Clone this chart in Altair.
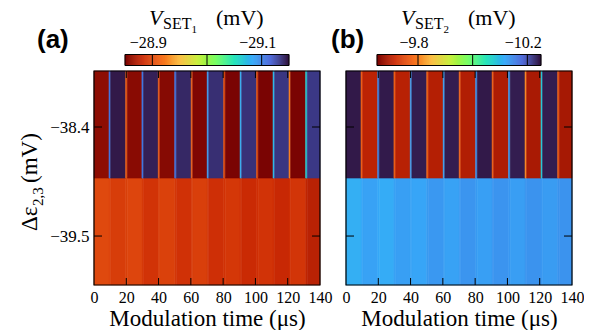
import altair as alt
import pandas as pd
import numpy as np

# ---- data ----
# segment edges along modulation time (us): blocks and ~1 us transitions
t_edges = [0, 9.3, 10.3, 19.6, 20.6, 29.7, 30.7, 39.8, 40.8, 50.0, 51.0, 60.2, 61.2,
           70.1, 71.1, 80.3, 81.3, 90.5, 91.5, 100.7, 101.7, 110.9, 111.9, 120.8,
           121.8, 131.1, 132.1, 140]
# detuning row edges (mV)
y_edges = [-39.994, -38.915, -37.835]

# V_SET1 (mV), panel (a)
a_top = [-28.858, -29.108, -29.147, -28.910, -28.856, -29.107, -29.144, -28.907,
         -28.855, -29.108, -29.141, -28.910, -28.852, -29.090, -29.138, -28.904,
         -28.850, -29.081, -29.137, -28.904, -28.848, -29.075, -29.135, -28.925,
         -28.849, -29.063, -29.134]
a_bottom = [-28.899, -28.897, -28.893, -28.895, -28.897, -28.892, -28.888, -28.892,
            -28.895, -28.891, -28.887, -28.891, -28.894, -28.889, -28.886, -28.888,
            -28.890, -28.886, -28.883, -28.886, -28.888, -28.885, -28.882, -28.885,
            -28.889, -28.880, -28.876]
# V_SET2 (mV), panel (b)
b_top = [-10.244, -9.770, -9.704, -10.148, -10.243, -9.770, -9.701, -10.130,
         -10.241, -9.776, -9.698, -10.124, -10.241, -9.776, -9.695, -10.136,
         -10.244, -9.770, -9.692, -10.130, -10.241, -9.806, -9.689, -10.082,
         -10.241, -9.770, -9.686]
b_bottom = [-10.111, -10.118, -10.124, -10.118, -10.114, -10.124, -10.127, -10.124,
            -10.121, -10.130, -10.133, -10.130, -10.124, -10.133, -10.136, -10.131,
            -10.127, -10.135, -10.137, -10.133, -10.128, -10.136, -10.138, -10.133,
            -10.130, -10.136, -10.138]

x_ticks = [0, 20, 40, 60, 80, 100, 120, 140]
y_ticks = [-38.4, -39.5]

a_cb_domain = [-28.85, -29.15]
a_cb_ticks = [-28.9, -29.0, -29.1]
a_cb_label_vals = [-28.9, -29.1]
a_cb_labels = ["\u221228.9", "\u221229.1"]

b_cb_domain = [-9.65, -10.25]
b_cb_ticks = [-9.8, -10.0, -10.2]
b_cb_label_vals = [-9.8, -10.2]
b_cb_labels = ["\u22129.8", "\u221210.2"]

turbo10 = ["#30123b", "#4662d7", "#36aaf9", "#1ae4b6", "#72fe5e",
           "#c7ef34", "#faba39", "#f66b19", "#cb2a04", "#7a0403"]

W, H = 226, 214
SERIF = "Liberation Serif"
ONE = pd.DataFrame({"a": [0]})


def cells(top, bottom):
    rows = []
    for r, vals in enumerate([bottom, top]):
        for i, v in enumerate(vals):
            rows.append(dict(t0=t_edges[i], t1=t_edges[i + 1],
                             y0=y_edges[r], y1=y_edges[r + 1], v=v))
    return pd.DataFrame(rows)


def txt(s, x, y, size, style="normal", angle=0, font=SERIF, weight="normal"):
    return alt.Chart(ONE).mark_text(
        text=s, font=font, fontSize=size, fontStyle=style, fontWeight=weight,
        align="left", baseline="alphabetic", angle=angle, color="black"
    ).encode(x=alt.value(x), y=alt.value(y))


def panel(top, bottom, cb_domain, cb_ticks, cb_label_vals, cb_labels,
          sub, letter, letter_x, show_y):
    lo, hi = min(cb_domain), max(cb_domain)
    cdom = [float(v) for v in np.linspace(lo, hi, len(turbo10))]
    cscale = alt.Scale(domain=cdom, range=turbo10, clamp=True, interpolate="rgb")
    xs = alt.Scale(domain=[0, 140], nice=False, zero=False)
    ys = alt.Scale(domain=[y_edges[0], y_edges[-1]], nice=False, zero=False)

    xaxis = alt.Axis(values=x_ticks, ticks=False, domain=False, grid=False,
                     labelFont=SERIF, labelFontSize=16, labelPadding=4,
                     labelFlush=False, labelOverlap=False, labelColor="black",
                     title="Modulation time (\u03bcs)", titleFont=SERIF,
                     titleFontSize=23, titleFontWeight="normal",
                     titleColor="black", titlePadding=2)
    if show_y:
        yenc = lambda f: alt.Y(f, scale=ys, axis=alt.Axis(
            values=y_ticks, ticks=False, domain=False, grid=False, format=".1f",
            labelFont=SERIF, labelFontSize=17, labelPadding=5,
            labelColor="black", title=None))
    else:
        yenc = lambda f: alt.Y(f, scale=ys, axis=None)

    heat = alt.Chart(cells(top, bottom)).mark_rect(strokeWidth=0.6).encode(
        x=alt.X("t0:Q", scale=xs, axis=xaxis), x2="t1:Q",
        y=yenc("y0:Q"), y2="y1:Q",
        color=alt.Color("v:Q", scale=cscale, legend=None),
        stroke=alt.Stroke("v:Q", scale=cscale, legend=None),
    )

    xt = pd.DataFrame({"t": x_ticks[1:-1]})
    yt = pd.DataFrame({"y": y_ticks})
    rule = dict(color="black", strokeWidth=1)
    bt = alt.Chart(xt).mark_rule(**rule).encode(
        x=alt.X("t:Q", scale=xs, axis=None), y=alt.value(H - 7), y2=alt.value(H))
    tt = alt.Chart(xt).mark_rule(**rule).encode(
        x=alt.X("t:Q", scale=xs, axis=None), y=alt.value(0), y2=alt.value(7))
    lt = alt.Chart(yt).mark_rule(**rule).encode(
        y=yenc("y:Q"), x=alt.value(0), x2=alt.value(8))
    rt = alt.Chart(yt).mark_rule(**rule).encode(
        y=yenc("y:Q"), x=alt.value(W - 8), x2=alt.value(W))
    frame = alt.Chart(ONE).mark_rect(fillOpacity=0, stroke="black", strokeWidth=1.2).encode(
        x=alt.value(0), x2=alt.value(W), y=alt.value(0), y2=alt.value(H))

    # colorbar
    cbx = alt.Scale(domain=cb_domain, range=[31, 195], nice=False, zero=False)
    g = np.linspace(hi, lo, 161)
    cb_df = pd.DataFrame({"c0": g[:-1], "c1": g[1:], "v": (g[:-1] + g[1:]) / 2})
    cb = alt.Chart(cb_df).mark_rect(strokeWidth=0.5).encode(
        x=alt.X("c0:Q", scale=cbx, axis=None), x2="c1:Q",
        y=alt.value(-16.5), y2=alt.value(-5.5),
        color=alt.Color("v:Q", scale=cscale, legend=None),
        stroke=alt.Stroke("v:Q", scale=cscale, legend=None))
    cbt = alt.Chart(pd.DataFrame({"c": cb_ticks})).mark_rule(**rule).encode(
        x=alt.X("c:Q", scale=cbx, axis=None), y=alt.value(-16.5), y2=alt.value(-5.5))
    cbb = alt.Chart(pd.DataFrame({"c0": [cb_domain[0]], "c1": [cb_domain[1]]})).mark_rect(
        fillOpacity=0, stroke="black", strokeWidth=1).encode(
        x=alt.X("c0:Q", scale=cbx, axis=None), x2="c1:Q",
        y=alt.value(-16.5), y2=alt.value(-5.5))
    cbl = alt.Chart(pd.DataFrame({"c": cb_label_vals, "lab": cb_labels})).mark_text(
        font=SERIF, fontSize=16, baseline="alphabetic", align="center", dx=-4,
        color="black").encode(
        x=alt.X("c:Q", scale=cbx, axis=None), y=alt.value(-22.7), text="lab:N")

    texts = [
        txt("V", 55, -46, 22, style="italic"),
        txt("SET", 69, -42.5, 16),
        txt(sub, 97.5, -38.5, 11),
        txt("(mV)", 122, -46, 22),
        txt(letter, letter_x, -23, 26, font="Liberation Sans", weight="bold"),
    ]
    layers = [heat, bt, tt, lt, rt, frame, cb, cbt, cbb, cbl] + texts
    if show_y:
        texts_y = [
            txt("\u0394\u03b5", -57, 160, 23, angle=270),
            txt("2,3", -51.5, 135, 15, angle=270),
            txt("(mV)", -57, 112, 23, angle=270),
            alt.Chart(ONE).mark_rect(opacity=0).encode(
                x=alt.value(-94), x2=alt.value(-93), y=alt.value(-71), y2=alt.value(-70)),
        ]
        layers += texts_y
    return alt.layer(*layers).resolve_scale(x="independent").properties(width=W, height=H)


pa = panel(a_top, a_bottom, a_cb_domain, a_cb_ticks, a_cb_label_vals, a_cb_labels,
           "1", "(a)", -57, True)
pb = panel(b_top, b_bottom, b_cb_domain, b_cb_ticks, b_cb_label_vals, b_cb_labels,
           "2", "(b)", -15, False)

chart = alt.hconcat(pa, pb, spacing=26, bounds="flush").resolve_scale(
    x="independent", y="independent", color="independent", stroke="independent"
).properties(padding={"left": 0, "top": 0, "right": 0, "bottom": 0},
             background="white").configure_view(stroke=None)

chart.save("out.html", embed_options={"renderer": "svg", "actions": False})
